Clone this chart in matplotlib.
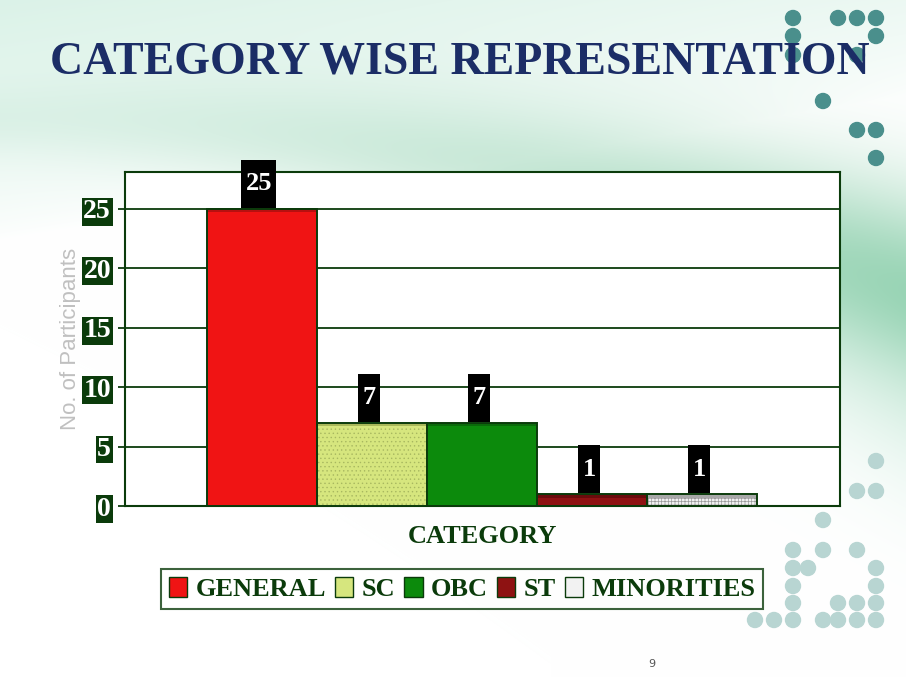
import numpy as np
import matplotlib
matplotlib.use("Agg")
import matplotlib.pyplot as plt
from matplotlib.patches import Patch, Circle
from matplotlib.path import Path

categories = ["GENERAL", "SC", "OBC", "ST", "MINORITIES"]
participants = [25, 7, 7, 1, 1]
yticks = [0, 5, 10, 15, 20, 25]

bar_colors = ["#f01414", "#d6e67e", "#0c8a0c", "#8e1212", "#f2f2f2"]
top_colors = ["#b81010", "#a9b85a", "#0a6a0a", "#6a0c0c", "#a8a8a8"]
bar_hatch = ["", "....", "", "", "+++++"]
hatch_colors = ["none", "#a8b860", "none", "none", "#9a9a9a"]
dark_green = "#0b3b0b"
serif = ["Liberation Serif", "DejaVu Serif"]

W, H = 906, 677
fig = plt.figure(figsize=(W / 100, H / 100), dpi=100)
plt.rcParams["hatch.linewidth"] = 0.5

# slide background: white with a mint wash and a green swoosh
bg = fig.add_axes([0, 0, 1, 1], zorder=-10)
yy, xx = np.mgrid[0:H, 0:W].astype(float)
img = np.ones((H, W, 3))
mint = np.array([0.86, 0.95, 0.91])
wash = np.clip(1 - (yy / 240) - (xx / 1500), 0, 1) ** 0.7
img = img * (1 - wash[..., None]) + mint * wash[..., None]
curve = 120 + 0.00022 * xx ** 2
d = yy - curve
band = np.exp(-(d / (35 + 0.08 * xx)) ** 2) * (0.15 + 0.85 * (xx / W) ** 1.5)
green = np.array([0.38, 0.74, 0.55])
img = img * (1 - 0.7 * band[..., None]) + green * 0.7 * band[..., None]
lower = np.exp(-((yy - (curve + 110)) / 110) ** 2) * np.clip((xx - 550) / 350, 0, 1)
img = img * (1 - 0.35 * lower[..., None]) + mint * 0.35 * lower[..., None]
bg.imshow(img, extent=[0, W, H, 0], aspect="auto")
bg.set_xlim(0, W)
bg.set_ylim(H, 0)
bg.axis("off")

dark_dots = [(793, 18), (838, 18), (857, 18), (876, 18), (793, 36), (876, 36),
             (793, 55), (857, 55), (823, 101), (857, 130), (876, 130), (876, 158),
             (793, 240)]
light_dots = [(793, 380), (876, 461), (857, 491), (876, 491), (823, 520),
              (793, 550), (823, 550), (857, 550), (793, 568), (808, 568),
              (876, 568), (793, 586), (876, 586), (793, 603), (838, 603),
              (857, 603), (876, 603), (755, 620), (774, 620), (793, 620),
              (823, 620), (838, 620), (857, 620), (876, 620)]
for (cx, cy) in dark_dots:
    bg.add_patch(Circle((cx, cy), 7.5, color="#4a8f8c", zorder=2))
for (cx, cy) in light_dots:
    bg.add_patch(Circle((cx, cy), 7.5, color="#b8d5d2", zorder=2))

fig.text(0.508, 1 - 62 / H, "CATEGORY WISE REPRESENTATION", ha="center", va="center",
         fontsize=33, fontweight="bold", color="#1b2d66", family=serif)
fig.text(652 / W, 1 - 664 / H, "9", ha="center", va="center", fontsize=8,
         color="#555555", family=["DejaVu Sans"])

ax = fig.add_axes([125 / W, 1 - 506 / H, 715 / W, 334 / H])
ax.set_facecolor("white")
x = np.arange(len(categories))
ax.bar(x, participants, width=1.0, color=bar_colors, linewidth=0, zorder=3)
for xi, v, h, hc in zip(x, participants, bar_hatch, hatch_colors):
    if h:
        ax.bar(xi, v, width=1.0, color="none", edgecolor=hc, hatch=h,
               linewidth=0, zorder=3.5)
# thin darker top face, like the 3-D bars of the slide
ax.bar(x, 0.3, bottom=np.array(participants) - 0.3, width=1.0, color=top_colors,
       linewidth=0, zorder=3.6)
ax.bar(x, participants, width=1.0, color="none", edgecolor=dark_green,
       linewidth=1.4, zorder=4)


def tall_box(x0, y0, width, height, mutation_size):
    px = 0.17 * mutation_size
    py = 0.47 * mutation_size
    return Path([(x0 - px, y0 - py), (x0 + width + px, y0 - py),
                 (x0 + width + px, y0 + height + py), (x0 - px, y0 + height + py),
                 (x0 - px, y0 - py)], closed=True)


for xi, v in zip(x, participants):
    ax.annotate(str(v), (xi - 0.03, v), xytext=(0, 9.7), textcoords="offset points",
                ha="center", va="bottom", fontsize=19, fontweight="bold",
                color="white", family=serif, zorder=6,
                bbox=dict(boxstyle=tall_box, facecolor="black", edgecolor="none"))

ax.set_xlim(-1.245, 5.25)
ax.set_ylim(0, 28.1)
ax.set_yticks(yticks)
ax.set_yticklabels([str(t) for t in yticks])
ax.set_xticks([])
ax.yaxis.grid(True, color=dark_green, linewidth=1.3, zorder=1)
ax.set_axisbelow(True)
for sp in ax.spines.values():
    sp.set_color(dark_green)
    sp.set_linewidth(1.5)
ax.tick_params(axis="y", direction="out", length=5, width=1.3, color=dark_green, pad=5)
for lbl in ax.get_yticklabels():
    lbl.set_fontfamily(serif)
    lbl.set_fontweight("bold")
    lbl.set_fontsize(20)
    lbl.set_color("white")
    lbl.set_bbox(dict(facecolor=dark_green, edgecolor="none", pad=1.0))

ax.set_ylabel("No. of Participants", fontsize=16, color="#c0c0c0",
              family=["Liberation Sans", "DejaVu Sans"], labelpad=2)
ax.set_xlabel("CATEGORY", fontsize=19, fontweight="bold", color=dark_green,
              family=serif, labelpad=14)

handles = [Patch(facecolor=c, edgecolor=dark_green, linewidth=1.0)
           for c in bar_colors]
leg = fig.legend(handles, categories, loc="center", bbox_to_anchor=(462 / W, 1 - 589 / H),
                 ncol=5, frameon=True, fancybox=False, handlelength=0.7,
                 handleheight=0.8, handletextpad=0.3, columnspacing=0.35,
                 borderpad=0.3, prop={"family": serif, "weight": "bold", "size": 19})
leg.get_frame().set_edgecolor(dark_green)
leg.get_frame().set_linewidth(1.5)
for t in leg.get_texts():
    t.set_color(dark_green)

fig.savefig("out.png", dpi=100)
